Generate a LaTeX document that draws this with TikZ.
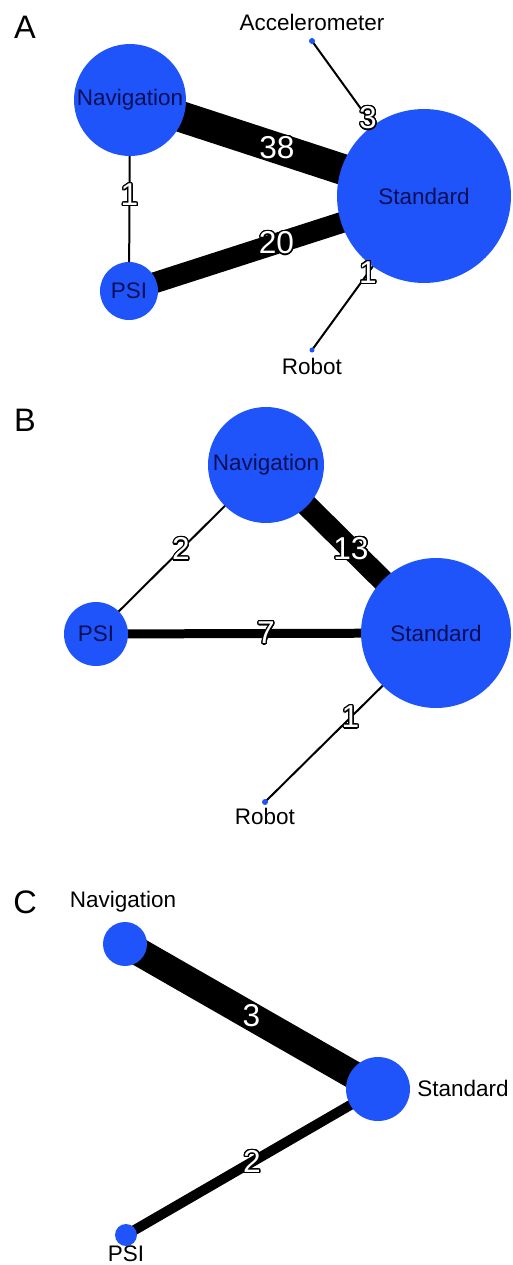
\documentclass[tikz,border=0pt]{standalone}
\usepackage{fontspec}
\setmainfont{Liberation Sans}
\usepackage{xcolor}
\usepackage{tikz}
\usetikzlibrary{backgrounds}
\usepackage{contour}
\contourlength{0.7pt}
\contournumber{24}

\definecolor{netblue}{RGB}{30,84,250}
\definecolor{netnavy}{RGB}{10,14,84}

\tikzset{
    vert/.style={circle, fill=netblue, inner sep=0pt, minimum size=#1*0.4mm,
        text=netnavy, font=\fontsize{12.8}{14}\selectfont},
    tag/.style={inner sep=0pt, font=\fontsize{12.8}{14}\selectfont},
    link/.style={line width=#1*0.2mm},
    weight/.style={midway, inner sep=0pt, text=white, font=\fontsize{18}{20}\selectfont},
    panel/.style={inner sep=0pt, font=\fontsize{18.5}{20}\selectfont}
}

\begin{document}
\begin{tikzpicture}[x=0.02cm, y=-0.02cm]
    \useasboundingbox (0,0) rectangle (512,1265);

    % Panel letters
    \foreach \y/\p in {27/A, 420/B, 902/C} {
        \node[panel] (panel\p) at (25,\y) {\p};
    }

    % A: treatment nodes
    \node[vert=56] (navA) at (130,100) {Navigation};
    \node[vert=87] (stdA) at (424,196) {Standard};
    \node[vert=29] (psiA) at (129,291) {PSI};
    \node[vert=3] (accA) at (312,41) {};
    \node[tag] (accAtag) at (312,22) {Accelerometer};
    \node[vert=2.5] (robA) at (312,350) {};
    \node[tag] (robAtag) at (312,366) {Robot};

    % B: treatment nodes
    \node[vert=58] (navB) at (266,465) {Navigation};
    \node[vert=75] (stdB) at (436,633) {Standard};
    \node[vert=32] (psiB) at (96,634) {PSI};
    \node[vert=3] (robB) at (265,802) {};
    \node[tag] (robBtag) at (265,816) {Robot};

    % C: treatment nodes, names outside
    \node[vert=22] (navC) at (125,944) {};
    \node[tag] (navCtag) at (123,902) {Navigation};
    \node[vert=32] (stdC) at (378,1089) {};
    \node[tag, anchor=west] (stdCtag) at (417,1088) {Standard};
    \node[vert=11] (psiC) at (126,1235) {};
    \node[tag] (psiCtag) at (126,1254) {PSI};

    % Comparisons, width by number of trials
    \begin{scope}[on background layer]
        \foreach \a/\b/\w in {navA/stdA/31, psiA/stdA/21, navA/psiA/2, accA/stdA/2, robA/stdA/2,
                              navB/stdB/22, psiB/stdB/9, psiB/navB/2, robB/stdB/2,
                              navC/stdC/28, psiC/stdC/10} {
            \draw[link=\w] (\a.center) -- (\b.center);
        }
    \end{scope}

    % Number of trials on each comparison
    \foreach \a/\b/\n in {navA/stdA/38, psiA/stdA/20, navA/psiA/1, accA/stdA/3, robA/stdA/1,
                          navB/stdB/13, psiB/stdB/7, psiB/navB/2, robB/stdB/1,
                          navC/stdC/3, psiC/stdC/2} {
        \path (\a.center) -- (\b.center) node[weight] {\contour{black}{\n}};
    }
\end{tikzpicture}
\end{document}
